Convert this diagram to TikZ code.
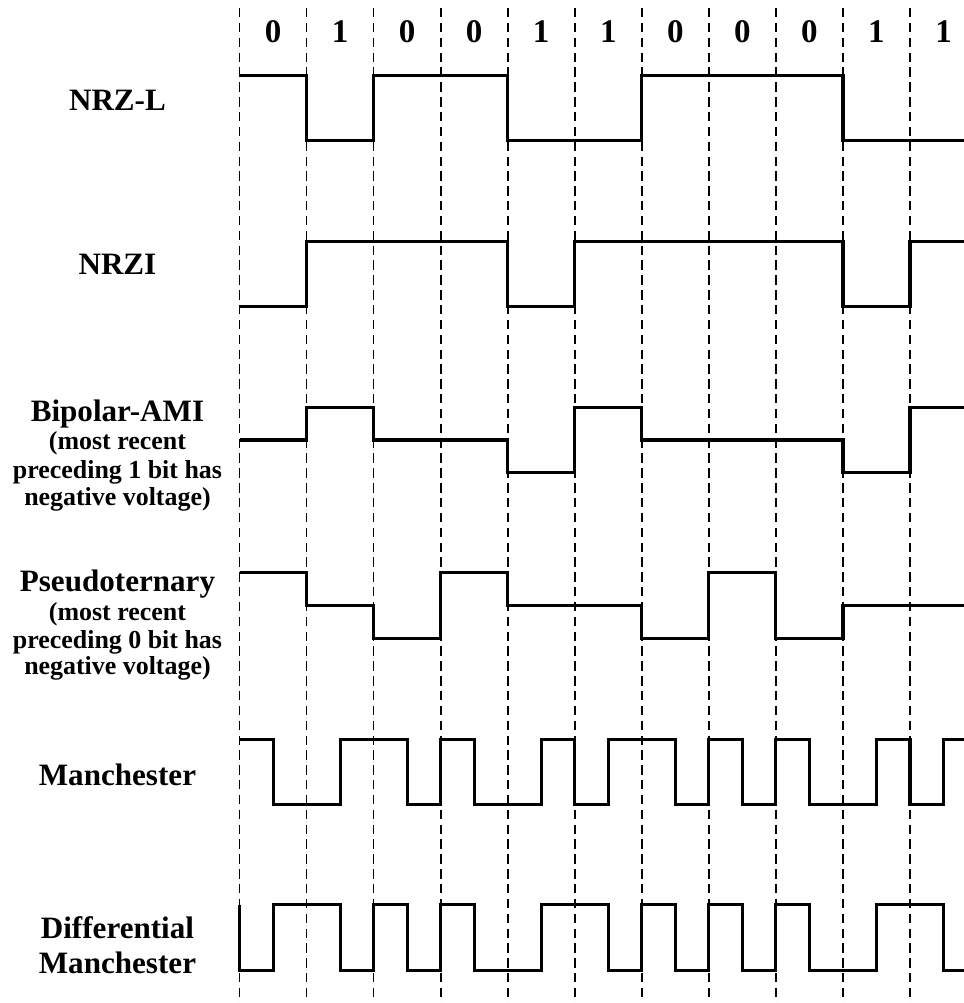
\documentclass[tikz,border=0pt]{standalone}
\usepackage{fontspec}
\setmainfont{Liberation Serif}
\usepackage{tikz}
\usetikzlibrary{positioning,calc}
\tikzset{
  wave/.style={line width=1.3pt, line join=miter},
  bitgrid/.style={line width=0.75pt, dash pattern=on 4pt off 2.3pt},
  bitlbl/.style={anchor=base, inner sep=0pt, font=\bfseries\fontsize{14}{16}\selectfont},
  codename/.style={anchor=base, inner sep=0pt, font=\bfseries\fontsize{13.2}{15}\selectfont},
  codenote/.style={anchor=base, inner sep=0pt, font=\bfseries\fontsize{11}{13}\selectfont}
}

\begin{document}
\begin{tikzpicture}
  \useasboundingbox (-3.572,0) rectangle (10.805,-14.959);

  % bit cells
  \foreach \k in {0,...,10} {
    \draw[bitgrid] (\k,-0.12) -- (\k,-14.96);
  }
  \foreach \b [count=\i from 0] in {0,1,0,0,1,1,0,0,0,1,1} {
    \node[bitlbl] (bit\i) at (\i+0.5,-0.634) {\b};
  }

  % names of the codes
  \node[codename] (nrzl) at (-1.82,-1.641) {NRZ-L};
  \node[codename] (nrzi) at (-1.82,-4.101) {NRZI};
  \node[codename] (ami) at (-1.82,-6.289) {Bipolar-AMI};
  \node[codenote] (ami1) at (-1.82,-6.711) {(most recent};
  \node[codenote] (ami2) at (-1.82,-7.134) {preceding 1 bit has};
  \node[codenote] (ami3) at (-1.82,-7.532) {negative voltage)};
  \node[codename] (pseudo) at (-1.82,-8.825) {Pseudoternary};
  \node[codenote] (pseudo1) at (-1.82,-9.247) {(most recent};
  \node[codenote] (pseudo2) at (-1.82,-9.669) {preceding 0 bit has};
  \node[codenote] (pseudo3) at (-1.82,-10.067) {negative voltage)};
  \node[codename] (manch) at (-1.82,-11.708) {Manchester};
  \node[codename] (dmanch1) at (-1.82,-13.99) {Differential};
  \node[codename] (dmanch2) at (-1.82,-14.52) {Manchester};

  % NRZ-L
  \begin{scope}[yshift=-1.611cm]
    \draw[wave] (0,0.49) -| (1,-0.49) -| (2,0.49) -| (4,-0.49) -| (6,0.49)
      -| (9,-0.49) -- (10.805,-0.49);
  \end{scope}

  % NRZI
  \begin{scope}[yshift=-4.087cm]
    \draw[wave] (0,-0.49) -| (1,0.49) -| (4,-0.49) -| (5,0.49) -| (9,-0.49)
      -| (10,0.49) -- (10.805,0.49);
  \end{scope}

  % bipolar-AMI
  \begin{scope}[yshift=-6.562cm]
    \draw[wave] (0,0) -| (1,0.49) -| (2,0) -| (4,-0.49) -| (5,0.49) -| (6,0)
      -| (9,-0.49) -| (10,0.49) -- (10.805,0.49);
  \end{scope}

  % pseudoternary
  \begin{scope}[yshift=-9.031cm]
    \draw[wave] (0,0.49) -| (1,0) -| (2,-0.49) -| (3,0.49) -| (4,0) -| (6,-0.49)
      -| (7,0.49) -| (8,-0.49) -| (9,0) -- (10.805,0);
  \end{scope}

  % Manchester
  \begin{scope}[yshift=-11.514cm]
    \draw[wave] (0,0.49) -| (0.5,-0.49) -| (1.5,0.49) -| (2.5,-0.49) -| (3,0.49)
      -| (3.5,-0.49) -| (4.5,0.49) -| (5,-0.49) -| (5.5,0.49) -| (6.5,-0.49)
      -| (7,0.49) -| (7.5,-0.49) -| (8,0.49) -| (8.5,-0.49) -| (9.5,0.49)
      -| (10,-0.49) -| (10.5,0.49) -- (10.805,0.49);
  \end{scope}

  % differential Manchester
  \begin{scope}[yshift=-13.982cm]
    \draw[wave] (0,0.49) -- (0,-0.49) -| (0.5,0.49) -| (1.5,-0.49) -| (2,0.49)
      -| (2.5,-0.49) -| (3,0.49) -| (3.5,-0.49) -| (4.5,0.49) -| (5.5,-0.49)
      -| (6,0.49) -| (6.5,-0.49) -| (7,0.49) -| (7.5,-0.49) -| (8,0.49)
      -| (8.5,-0.49) -| (9.5,0.49) -| (10.5,-0.49) -- (10.805,-0.49);
  \end{scope}
\end{tikzpicture}
\end{document}
